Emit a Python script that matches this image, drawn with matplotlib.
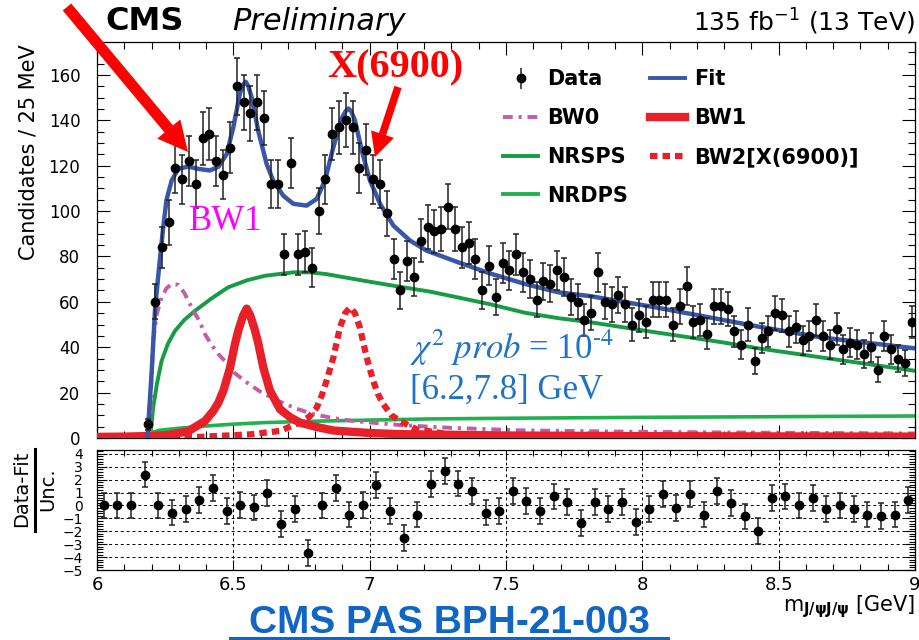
import numpy as np
import matplotlib
matplotlib.use("Agg")
import matplotlib.pyplot as plt
from matplotlib.patches import FancyArrow
from matplotlib.lines import Line2D
from matplotlib.ticker import MultipleLocator

# di-J/psi mass spectrum, 25 MeV bins from 6 to 9 GeV
counts = [0, 0, 0, 0, 0, 0, 0,
          6, 60, 84, 95, 119, 114, 122, 112, 132, 134,
          122, 116, 128, 155, 148, 143, 148, 141, 112, 112,
          81, 121, 81, 82, 75, 100, 114, 134, 137, 140,
          137, 119, 127, 114, 112, 99, 79, 65, 78, 71,
          87, 93, 91, 92, 102, 92, 84, 86, 79, 65,
          76, 62, 77, 74, 81, 73, 70, 61, 69, 68,
          74, 71, 62, 60, 52, 55, 73, 60, 59, 63,
          59, 50, 54, 51, 61, 61, 61, 50, 58, 67,
          51, 52, 46, 58, 58, 57, 47, 41, 50, 34,
          44, 47, 55, 54, 47, 49, 43, 45, 52, 45,
          41, 48, 39, 42, 41, 37, 40, 30, 45, 39,
          35, 33, 51]

# pulls in 50 MeV bins
pulls = [0, 0, 0, 2.4, 0, -0.55, -0.25, 0.45, 1.35, -0.45,
         0.05, -0.15, 0.95, -1.45, -0.3, -3.7, 0, 1.35, -0.7, 0.05,
         1.6, -0.45, -2.5, -0.7, 1.65, 2.7, 1.7, 1.15, -0.55, -0.45,
         1.15, 0.35, -0.45, 0.7, 0.25, -1.35, 0.25, -0.3, 0.25, -1.25,
         -0.3, 0.9, -0.2, 0.9, -0.7, 1.15, 0.2, -0.85, -2.0, 0.6,
         0.7, 0, 0.6, -0.3, 0, -0.3, -0.7, -0.8, -0.7, 0.45]

# fit model and its components
fit_x = [6.185, 6.200, 6.213, 6.225, 6.243, 6.255, 6.274, 6.298, 6.335, 6.371,
         6.414, 6.445, 6.476, 6.500, 6.524, 6.535, 6.545, 6.555, 6.567, 6.591,
         6.622, 6.646, 6.683, 6.720, 6.769, 6.806, 6.836, 6.867, 6.897, 6.912,
         6.922, 6.932, 6.946, 6.971, 7.001, 7.038, 7.087, 7.148, 7.210, 7.325,
         7.447, 7.569, 7.692, 7.810, 8.052, 8.297, 8.420, 8.657, 9.000]
fit_y = [0, 28, 57, 72, 93, 105, 113.5, 118.6, 119.6, 118.6,
         117.9, 119.5, 125.2, 137, 151.7, 155.5, 157, 155, 150.2, 135.5,
         120.8, 113.5, 106.8, 103.2, 102.4, 105.4, 113.5, 128.2, 140.7, 144,
         145.2, 144, 140, 126.7, 113.5, 103.2, 93.6, 87, 82.5, 77.4,
         72.3, 67.9, 64.2, 62.5, 57.5, 52, 49.2, 44.3, 39.5]

nrsps_x = [6.194, 6.200, 6.206, 6.220, 6.237, 6.260, 6.286, 6.320, 6.359, 6.420,
           6.481, 6.550, 6.616, 6.720, 6.781, 6.842, 6.964, 7.087, 7.221, 7.325,
           7.447, 7.569, 7.692, 7.810, 8.052, 8.297, 8.420, 8.657, 9.000]
nrsps_y = [0, 6, 13.4, 24, 34, 41.5, 47.2, 52, 56, 61.5,
           66.4, 69.5, 71.5, 73, 73, 72.2, 69.6, 67.1, 64.5, 61.9,
           58.8, 55.2, 52.8, 51, 46.5, 42.1, 39.6, 35.5, 29.6]

nrdps_x = [6.194, 6.205, 6.230, 6.300, 6.400, 6.500, 6.616, 6.800, 7.000, 7.221,
           7.500, 8.000, 8.500, 9.000]
nrdps_y = [0, 2.5, 3.4, 4.3, 5.3, 6.1, 6.8, 7.4, 7.9, 8.4,
           8.7, 9.1, 9.4, 9.7]

bw0_x = [6.194, 6.198, 6.206, 6.220, 6.237, 6.255, 6.274, 6.298, 6.320, 6.347,
         6.378, 6.396, 6.420, 6.445, 6.476, 6.506, 6.549, 6.604, 6.671, 6.730,
         6.793, 6.870, 6.940, 7.111, 7.294, 7.539, 8.000, 8.500, 9.000]
bw0_y = [0, 21, 43, 55, 62, 66, 67.9, 67.5, 64, 57.5,
         51, 45.8, 41, 37, 33, 28.5, 24.5, 20, 16, 13,
         10.5, 8.7, 7.5, 5.7, 4.5, 3.4, 2.7, 2.3, 2.0]

bw1_x = [6.000, 6.100, 6.200, 6.260, 6.335, 6.396, 6.427, 6.445, 6.464, 6.488,
         6.507, 6.520, 6.536, 6.549, 6.562, 6.578, 6.591, 6.610, 6.634, 6.671,
         6.710, 6.744, 6.800, 6.867, 7.000, 7.110, 7.500, 8.000, 8.500, 9.000]
bw1_y = [0.5, 0.6, 0.9, 1.3, 3.0, 7.5, 12, 15.5, 21, 31,
         42, 48, 54, 57, 54, 48, 42, 31, 21, 12.7,
         9, 6.8, 5, 3.3, 2.2, 1.7, 1.1, 0.8, 0.7, 0.6]

bw2_x = [6.000, 6.378, 6.561, 6.671, 6.744, 6.780, 6.806, 6.825, 6.842, 6.867,
         6.891, 6.910, 6.928, 6.946, 6.964, 6.989, 7.013, 7.030, 7.050, 7.080,
         7.111, 7.172, 7.294, 7.600, 8.000, 9.000]
bw2_y = [0.3, 0.5, 1.6, 3.1, 6.8, 9.5, 13.4, 19, 25.2, 35.5,
         48.7, 55, 57.5, 55, 48.7, 35.5, 25.2, 19.5, 14.9, 10,
         7.5, 3.8, 1.6, 0.8, 0.5, 0.3]

counts = np.array(counts, dtype=float)
mass = 6.0125 + 0.025 * np.arange(len(counts))
pull_mass = 6.025 + 0.05 * np.arange(len(pulls))
shown = counts > 0

W, H = 920, 640
fig = plt.figure(figsize=(W / 100, H / 100), dpi=100)
ax = fig.add_axes([97 / W, 1 - 438 / H, 818 / W, 396 / H])
axp = fig.add_axes([97 / W, 1 - 570 / H, 818 / W, 120 / H])

green_sps = "#179b45"
green_dps = "#20b24f"
pink = "#c45ca6"
red = "#e8202a"
blue = "#3957a8"

ax.plot(nrsps_x, nrsps_y, color=green_sps, lw=2.8, zorder=2)
ax.plot(nrdps_x, nrdps_y, color=green_dps, lw=2.6, zorder=2)
ax.plot(bw0_x, bw0_y, color=pink, lw=2.8, ls=(0, (2.5, 1.5, 0.8, 1.5)), zorder=3)
ax.plot(bw2_x, bw2_y, color=red, lw=4.5, ls=(0, (1.2, 0.8)), zorder=3)
ax.plot(bw1_x, bw1_y, color=red, lw=6, solid_capstyle="round", zorder=4)
ax.plot(fit_x, fit_y, color=blue, lw=3.2, zorder=5)
ax.errorbar(mass[shown], counts[shown], yerr=np.sqrt(counts[shown]), fmt="o",
            color="black", ecolor="#222222", ms=6, elinewidth=1.1, capsize=2.5,
            capthick=1.1, zorder=6)

# legend handles
h_data = ax.errorbar([], [], yerr=[], fmt="o", color="black", ecolor="#222222",
                     ms=6, elinewidth=1.1, capsize=2.5, capthick=1.1)
h_bw0 = Line2D([], [], color=pink, lw=2.8, ls=(0, (2.5, 1.5, 0.8, 1.5)))
h_sps = Line2D([], [], color=green_sps, lw=2.8)
h_dps = Line2D([], [], color=green_dps, lw=2.8)
h_fit = Line2D([], [], color=blue, lw=2.8)
h_bw1 = Line2D([], [], color=red, lw=6)
h_bw2 = Line2D([], [], color=red, lw=4.5, ls=(0, (1.2, 0.8)))
ax.legend([h_data, h_bw0, h_sps, h_dps, h_fit, h_bw1, h_bw2],
          ["Data", "BW0", "NRSPS", "NRDPS", "Fit", "BW1", "BW2[X(6900)]"],
          ncol=2, frameon=False, loc="upper left",
          bbox_to_anchor=(493 / W, 1 - 59 / H), bbox_transform=fig.transFigure,
          borderpad=0, handlelength=1.68, handletextpad=0.43, columnspacing=1.06,
          labelspacing=0.9, prop={"weight": "bold", "size": 15})

ax.set_xlim(6, 9)
ax.set_ylim(0, 174.5)
ax.yaxis.set_major_locator(MultipleLocator(20))
ax.yaxis.set_minor_locator(MultipleLocator(5))
ax.xaxis.set_major_locator(MultipleLocator(0.5))
ax.xaxis.set_minor_locator(MultipleLocator(0.1))
ax.tick_params(which="both", direction="in", top=True, right=True, width=0.8,
               labelbottom=False)
ax.tick_params(which="major", length=9.5, labelsize=12, pad=12)
ax.tick_params(which="minor", length=5)
for s in ax.spines.values():
    s.set_linewidth(0.9)

# pull panel
axp.errorbar(pull_mass, pulls, yerr=1, fmt="o", color="black", ecolor="#222222",
             ms=6, elinewidth=1.1, capsize=2.5, capthick=1.1, zorder=4)
axp.set_xlim(6, 9)
axp.set_ylim(-5, 4.3)
axp.yaxis.set_major_locator(MultipleLocator(1))
axp.yaxis.set_minor_locator(MultipleLocator(0.2))
axp.xaxis.set_major_locator(MultipleLocator(0.5))
axp.xaxis.set_minor_locator(MultipleLocator(0.1))
axp.set_xticks([6, 6.5, 7, 7.5, 8, 8.5, 9], ["6", "6.5", "7", "7.5", "8", "8.5", "9"])
axp.grid(True, which="major", color="black", lw=0.7, ls=(0, (3, 3)))
axp.tick_params(which="both", direction="in", top=True, right=True, width=0.8)
axp.tick_params(axis="y", which="major", length=7, labelsize=10, pad=10)
axp.tick_params(axis="y", which="minor", length=4.5)
axp.tick_params(axis="x", which="major", length=7, labelsize=13, pad=4)
axp.tick_params(axis="x", which="minor", length=4)
for s in axp.spines.values():
    s.set_linewidth(0.9)

# labels and annotations
fig.text(29 / W, 1 - 152 / H, "Candidates / 25 MeV", rotation=90, ha="center",
         va="center", fontsize=15)
fig.text(22 / W, 1 - 489 / H, "Data-Fit", rotation=90, ha="center", va="center",
         fontsize=14)
fig.text(48 / W, 1 - 489 / H, "Unc.", rotation=90, ha="center", va="center",
         fontsize=14)
fig.add_artist(Line2D([35 / W, 35 / W], [1 - 449 / H, 1 - 531 / H], color="black",
                      lw=2.2, transform=fig.transFigure))
fig.text(915 / W, 1 - 607 / H, r"m$_{\mathbf{J/\psi J/\psi}}$ [GeV]", ha="right",
         va="center", fontsize=15)

fig.text(105 / W, 1 - 21 / H, "CMS", ha="left", va="center", fontsize=23,
         fontweight="bold")
fig.text(232 / W, 1 - 21 / H, "Preliminary", ha="left", va="center", fontsize=22,
         fontstyle="italic")
fig.text(915 / W, 1 - 22 / H, r"135 fb$^{-1}$ (13 TeV)", ha="right", va="center",
         fontsize=18)

fig.text(449 / W, 1 - 633 / H, "CMS PAS BPH-21-003", ha="center", va="baseline",
         fontsize=28, fontweight="bold", family="Liberation Sans", color="#0f66c4")
fig.add_artist(Line2D([230 / W, 668 / W], [1 - 638 / H, 1 - 638 / H],
                      color="#0f66c4", lw=2.2, transform=fig.transFigure))

fig.text(226 / W, 1 - 222 / H, "BW1", ha="center", va="center", fontsize=25,
         family="Liberation Serif", color="#ff00ff")
fig.text(395 / W, 1 - 68 / H, "X(6900)", ha="center", va="center", fontsize=29,
         family="Liberation Serif", fontweight="bold", color="#ff0000")
fig.text(410 / W, 1 - 348 / H, r"$\chi^2\ prob$ = 10$^{\text{-4}}$", ha="left",
         va="center", fontsize=25, family="Liberation Serif", math_fontfamily="stix",
         color="#1f73c7")
fig.text(410 / W, 1 - 390 / H, "[6.2,7.8] GeV", ha="left", va="center", fontsize=25,
         family="Liberation Serif", color="#1f73c7")

# arrows, in inches from the lower-left corner
fig.add_artist(FancyArrow(0.67, 6.33, 1.21, -1.45, width=0.11, head_width=0.30,
                          head_length=0.30, length_includes_head=True, color="#ff0000",
                          lw=0, transform=fig.dpi_scale_trans, zorder=10))
fig.add_artist(FancyArrow(3.98, 5.53, -0.23, -0.70, width=0.075, head_width=0.24,
                          head_length=0.24, length_includes_head=True, color="#ff0000",
                          lw=0, transform=fig.dpi_scale_trans, zorder=10))

fig.savefig("out.png", dpi=100)
